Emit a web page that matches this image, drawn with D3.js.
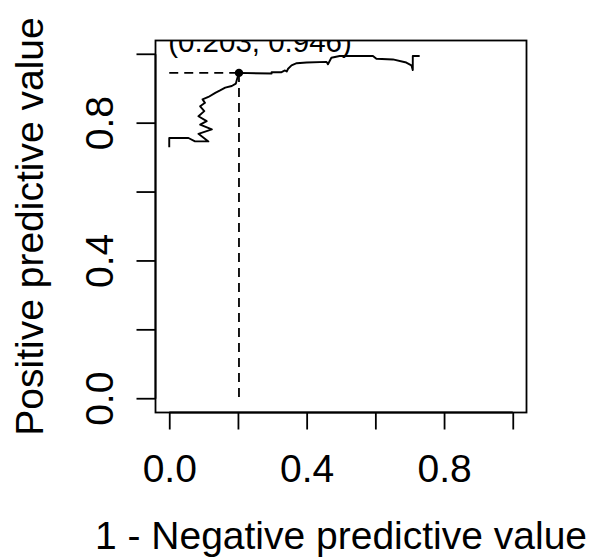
<!DOCTYPE html>
<html lang="en">
<head>
  <meta charset="UTF-8">
  <title>PPV vs 1 - NPV</title>
  <script src="https://d3js.org/d3.v7.min.js"></script>
  <style>
    body { margin: 0; background: #fff; }
    svg { display: block; font-family: "Liberation Sans", Arial, sans-serif; }
    .axis path, .axis line { stroke: #000; stroke-width: 1.8px; }
    .curve { fill: none; stroke: #000; stroke-width: 1.9px; stroke-linejoin: round; }
    .guide { fill: none; stroke: #000; stroke-width: 1.8px; stroke-dasharray: 9,6; }
  </style>
</head>
<body>
  <svg width="592" height="559"></svg>

  <script>
    // curve: x = 1 - NPV, y = PPV
    const npvComp = [0.000, 0.000, 0.056, 0.075, 0.114, 0.085, 0.124, 0.090, 0.109, 0.085,
                     0.102, 0.090, 0.104, 0.097, 0.114, 0.134, 0.148, 0.163, 0.182, 0.194,
                     0.197, 0.203, 0.298, 0.298, 0.327, 0.337, 0.342, 0.346, 0.356, 0.371,
                     0.400, 0.458, 0.462, 0.472, 0.496, 0.593, 0.603, 0.651, 0.690, 0.705,
                     0.709, 0.709, 0.729];
    const ppv     = [0.730, 0.757, 0.757, 0.747, 0.747, 0.769, 0.782, 0.796, 0.806, 0.820,
                     0.835, 0.849, 0.859, 0.869, 0.876, 0.888, 0.895, 0.903, 0.908, 0.915,
                     0.927, 0.946, 0.944, 0.948, 0.948, 0.953, 0.950, 0.958, 0.968, 0.974,
                     0.976, 0.978, 0.971, 0.990, 0.995, 0.995, 0.987, 0.985, 0.976, 0.968,
                     0.954, 0.995, 0.995];

    const best = { x: 0.203, y: 0.946 };
    const bestLabel = "(0.203, 0.946)";

    const xTicks = [0, 0.2, 0.4, 0.6, 0.8, 1.0];
    const yTicks = [0, 0.2, 0.4, 0.6, 0.8, 1.0];
    const labelledTicks = [0, 0.4, 0.8];

    const svg = d3.select("svg");
    const pLeft = 155.5, pRight = 526.5, pTop = 40.5, pBottom = 412.5;

    const x = d3.scaleLinear().domain([-0.04, 1.04]).range([pLeft, pRight]);
    const y = d3.scaleLinear().domain([-0.04, 1.04]).range([pBottom, pTop]);

    svg.append("clipPath").attr("id", "plotClip")
      .append("rect")
        .attr("x", pLeft).attr("y", pTop)
        .attr("width", pRight - pLeft).attr("height", pBottom - pTop);

    // box
    svg.append("rect")
      .attr("x", pLeft).attr("y", pTop)
      .attr("width", pRight - pLeft).attr("height", pBottom - pTop)
      .attr("fill", "none").attr("stroke", "#000").attr("stroke-width", 1.8);

    // axes (R style: line spans first to last tick)
    const fmt = d => labelledTicks.includes(d) ? d3.format(".1f")(d) : "";

    const gx = svg.append("g").attr("class", "axis")
      .attr("transform", `translate(0,${pBottom})`)
      .call(d3.axisBottom(x).tickValues(xTicks).tickSize(17).tickSizeOuter(0).tickFormat(fmt));
    gx.select(".domain").attr("d", `M${x(0)},0H${x(1)}`);
    gx.selectAll("text")
      .attr("y", 69).attr("dy", 0)
      .attr("font-size", 39).attr("fill", "#000");

    const gy = svg.append("g").attr("class", "axis")
      .attr("transform", `translate(${pLeft},0)`)
      .call(d3.axisLeft(y).tickValues(yTicks).tickSize(19).tickSizeOuter(0).tickFormat(fmt));
    gy.select(".domain").attr("d", `M0,${y(0)}V${y(1)}`);
    gy.selectAll(".tick").attr("transform", null);
    gy.selectAll(".tick line").attr("transform", d => `translate(0,${y(d)})`);
    gy.selectAll(".tick text")
      .attr("x", 0).attr("y", 0).attr("dy", 0)
      .attr("text-anchor", "middle")
      .attr("transform", d => `translate(-42.5,${y(d)}) rotate(-90)`)
      .attr("font-size", 39).attr("fill", "#000");

    // guide lines to the chosen threshold
    svg.append("path")
      .attr("class", "guide")
      .attr("d", `M${x(0)},${y(best.y)}H${x(best.x)}`);
    svg.append("path")
      .attr("class", "guide")
      .attr("d", `M${x(best.x)},${y(best.y)}V${y(0)}`);

    // curve
    const pts = npvComp.map((v, i) => [v, ppv[i]]);
    svg.append("path")
      .datum(pts)
      .attr("class", "curve")
      .attr("d", d3.line().x(d => x(d[0])).y(d => y(d[1])));

    svg.append("circle")
      .attr("cx", x(best.x)).attr("cy", y(best.y))
      .attr("r", 4.2).attr("fill", "#000");

    svg.append("text")
      .attr("clip-path", "url(#plotClip)")
      .attr("x", 260).attr("y", 52)
      .attr("text-anchor", "middle")
      .attr("font-size", 29.5)
      .text(bestLabel);

    // axis titles
    svg.append("text")
      .attr("x", (pLeft + pRight) / 2).attr("y", 549)
      .attr("text-anchor", "middle")
      .attr("font-size", 39)
      .text("1 - Negative predictive value");

    svg.append("text")
      .attr("transform", `translate(43,${(pTop + pBottom) / 2}) rotate(-90)`)
      .attr("text-anchor", "middle")
      .attr("font-size", 39)
      .text("Positive predictive value");
  </script>
</body>
</html>
